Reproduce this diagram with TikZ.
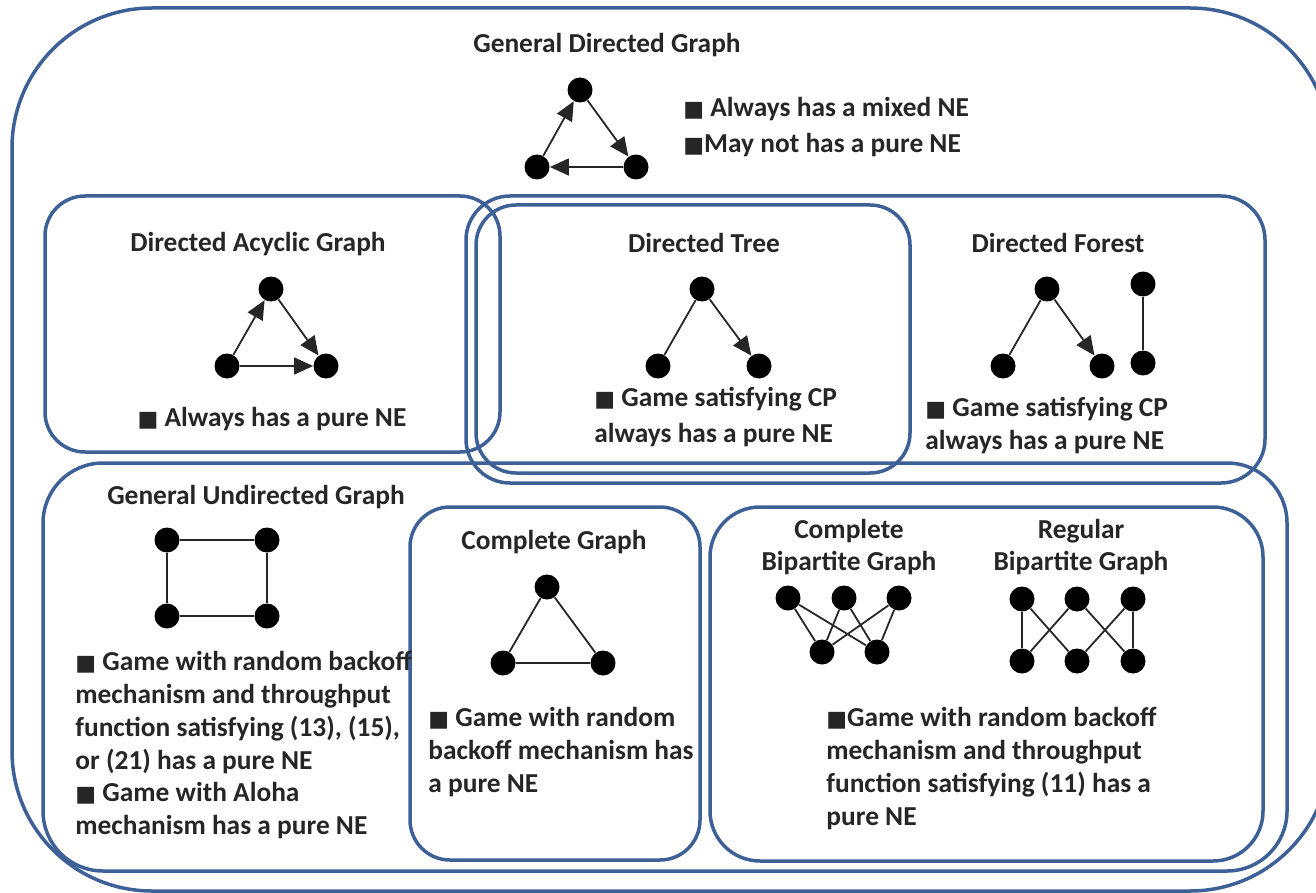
\documentclass[tikz,border=0pt]{standalone}
\usepackage{fontspec}
\setmainfont{Carlito}
\newfontfamily\symf{DejaVu Sans}
\usetikzlibrary{arrows.meta}
\definecolor{boxblue}{HTML}{3D6096}
\definecolor{txt}{HTML}{262626}
\newcommand{\sqb}{{\symf\fontsize{11}{11}\selectfont ■}}
\begin{document}
\begin{tikzpicture}[x=0.5pt,y=-0.5pt,
 box/.style={draw=boxblue,line width=1.75pt},
 vtx/.style={circle,fill=black,minimum size=12.5pt,inner sep=0pt},
 edge/.style={draw=black!85,line width=0.9pt},
 arr/.style={edge,-{Triangle[length=9.5pt,width=8.5pt]}},
 ttl/.style={font=\bfseries\fontsize{13.7}{16.4}\selectfont,text=txt,inner sep=0pt,align=center},
 txtb/.style={font=\bfseries\fontsize{13.7}{16.4}\selectfont,text=txt,inner sep=0pt,align=left,anchor=north west}]
\useasboundingbox (0,0) rectangle (1316,893);
\clip (0,0) rectangle (1316,893);
% containers
\draw[box,rounded corners=70pt] (12,8) rectangle (1330,891);
\draw[box,rounded corners=20pt] (45,196) rectangle (500,452);
\draw[box,rounded corners=22pt] (466,196) rectangle (1265,483);
\draw[box,rounded corners=20pt] (476,205) rectangle (910,473);
\draw[box,rounded corners=30pt] (43,463) rectangle (1287,871);
\draw[box,rounded corners=20pt] (410,507) rectangle (700,860);
\draw[box,rounded corners=25pt] (710,507) rectangle (1263,861);
% titles
\node[ttl] (t1) at (607,45) {General Directed Graph};
\node[ttl] (t2) at (258,244) {Directed Acyclic Graph};
\node[ttl] (t3) at (704,243) {Directed Tree};
\node[ttl] (t4) at (1058,243) {Directed Forest};
\node[ttl] (t5) at (256,497) {General Undirected Graph};
\node[ttl] (t6) at (554,542) {Complete Graph};
\node[ttl] (t7) at (849,547) {Complete\\Bipartite Graph};
\node[ttl] (t8) at (1081,547) {Regular\\Bipartite Graph};
% general directed graph
\node[vtx] (g1) at (580,90) {};
\node[vtx] (g2) at (636,167) {};
\node[vtx] (g3) at (537,167) {};
\draw[arr] (g3) -- (g1);
\draw[arr] (g1) -- (g2);
\draw[arr] (g2) -- (g3);
% DAG
\node[vtx] (a1) at (271,289) {};
\node[vtx] (a2) at (326,366) {};
\node[vtx] (a3) at (227,366) {};
\draw[arr] (a3) -- (a1);
\draw[arr] (a1) -- (a2);
\draw[arr] (a3) -- (a2);
% tree
\node[vtx] (r1) at (702,289) {};
\node[vtx] (r2) at (658,366) {};
\node[vtx] (r3) at (759,366) {};
\draw[edge] (r1) -- (r2);
\draw[arr] (r1) -- (r3);
% forest
\node[vtx] (f1) at (1047,289) {};
\node[vtx] (f2) at (1003,366) {};
\node[vtx] (f3) at (1102,366) {};
\node[vtx] (f4) at (1143,284) {};
\node[vtx] (f5) at (1143,363) {};
\draw[edge] (f1) -- (f2);
\draw[arr] (f1) -- (f3);
\draw[edge] (f4) -- (f5);
% undirected square
\node[vtx] (u1) at (167,540) {};
\node[vtx] (u2) at (267,540) {};
\node[vtx] (u3) at (267,616) {};
\node[vtx] (u4) at (167,616) {};
\draw[edge] (u1) -- (u2) -- (u3) -- (u4) -- (u1);
% complete graph
\node[vtx] (k1) at (547,587) {};
\node[vtx] (k2) at (603,663) {};
\node[vtx] (k3) at (503,663) {};
\draw[edge] (k1) -- (k2) -- (k3) -- (k1);
% complete bipartite
\node[vtx] (c1) at (788,598) {};
\node[vtx] (c2) at (844,598) {};
\node[vtx] (c3) at (899,598) {};
\node[vtx] (c4) at (822,652) {};
\node[vtx] (c5) at (877,652) {};
\foreach \s in {c1,c2,c3}{\foreach \t in {c4,c5}{\draw[edge] (\s) -- (\t);}}
% regular bipartite
\node[vtx] (b1) at (1022,599) {};
\node[vtx] (b2) at (1077,599) {};
\node[vtx] (b3) at (1133,599) {};
\node[vtx] (b4) at (1022,661) {};
\node[vtx] (b5) at (1077,661) {};
\node[vtx] (b6) at (1133,661) {};
\draw[edge] (b1) -- (b4);
\draw[edge] (b1) -- (b5);
\draw[edge] (b2) -- (b4);
\draw[edge] (b2) -- (b6);
\draw[edge] (b3) -- (b5);
\draw[edge] (b3) -- (b6);
% texts
\node[txtb,font=\bfseries\fontsize{13.7}{18}\selectfont] (x1) at (683,97) {\sqb\ Always has a mixed NE\\\sqb May not has a pure NE};
\node[txtb,anchor=north] (x2) at (272,407) {\sqb\ Always has a pure NE};
\node[txtb,font=\bfseries\fontsize{13.7}{18}\selectfont] (x3) at (594,387) {\sqb\ Game satisfying CP\\always has a pure NE};
\node[txtb] (x4) at (925,397) {\sqb\ Game satisfying CP\\always has a pure NE};
\node[txtb] (x5) at (75,651) {\sqb\ Game with random backoff\\mechanism and throughput\\function satisfying (13), (15),\\or (21) has a pure NE\\\sqb\ Game with Aloha\\mechanism has a pure NE};
\node[txtb] (x6) at (428,707) {\sqb\ Game with random\\backoff mechanism has\\a pure NE};
\node[txtb] (x7) at (826,707) {\sqb Game with random backoff\\mechanism and throughput\\function satisfying (11) has a\\pure NE};
\end{tikzpicture}
\end{document}
